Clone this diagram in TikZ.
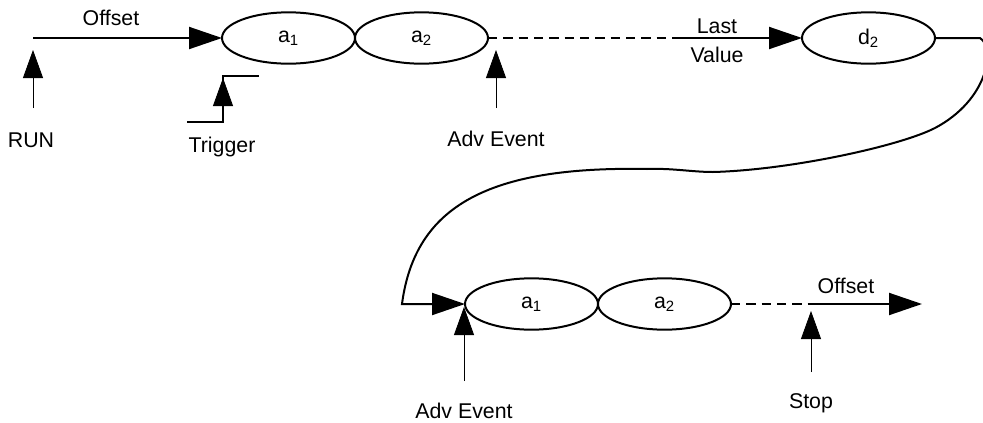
\documentclass[tikz,border=0pt]{standalone}
\usepackage{fontspec}
\setmainfont{Liberation Sans}
\usetikzlibrary{arrows.meta,shapes.geometric,positioning}

\begin{document}
\begin{tikzpicture}[x=0.75pt, y=-0.75pt, font=\fontsize{16}{19}\selectfont,
	slot/.style={ellipse, draw, line width=1.5pt, minimum width=99.75pt, minimum height=38.5pt, inner sep=0pt, outer sep=0pt},
	flow/.style={line width=1.5pt, -{Triangle[length=24.75pt, width=16.5pt]}},
	hold/.style={line width=1.5pt, dash pattern=on 7pt off 4.5pt},
	event/.style={line width=0.6pt, -{Triangle[length=21pt, width=15pt]}},
	lbl/.style={anchor=base, inner sep=0pt}]
			\useasboundingbox (0,0) rectangle (983,422);
			\node[slot] (a1) at (288.5,38) {a\textsubscript{1}};
			\node[slot, right=0pt of a1] (a2) {a\textsubscript{2}};
			\node[slot] (d2) at (868.5,38) {d\textsubscript{2}};
			\node[slot] (b1) at (531.5,304) {a\textsubscript{1}};
			\node[slot, right=0pt of b1] (b2) {a\textsubscript{2}};
			\node[lbl] (offset) at (111,25) {Offset};
			\node[lbl] (run) at (31,147) {RUN};
			\node[lbl] (trigger) at (222,152) {Trigger};
			\node[lbl] (adv) at (496,146) {Adv Event};
			\node[lbl] (last) at (717,33) {Last};
			\node[lbl] (value) at (717,62) {Value};
			\node[lbl] (offset2) at (846,293) {Offset};
			\node[lbl] (adv2) at (464,418) {Adv Event};
			\node[lbl] (stop) at (811,408) {Stop};
			\coordinate (start) at (33,38);
			\coordinate (lv) at (677,38);
			\coordinate (back) at (402,304);
			\coordinate (stopat) at (811,304);
			\coordinate (outend) at (922,304);
			\coordinate (runfoot) at (33,108);
			\coordinate (runtip) at (33,50);
			\coordinate (advfoot) at (496,108);
			\coordinate (advtip) at (496,50);
			\coordinate (tlow) at (187,122);
			\coordinate (tcorner) at (223,122);
			\coordinate (ttip) at (223,78);
			\coordinate (ttop) at (259,76);
			\coordinate (adv2foot) at (464,381);
			\coordinate (adv2tip) at (464,307);
			\coordinate (stopfoot) at (811,372);
			\coordinate (stoptip) at (811,311);
			\draw[flow] (start) -- (a1.west);
			\draw[hold] (a2.east) -- (lv);
			\draw[flow] (lv) -- (d2.west);
			\draw[flow] (d2.east) -- (980,38) .. controls (996,48) and (988,100) .. (935,128)
				.. controls (900,146) and (790,170) .. (713,172)
				.. controls (692,172) and (672,168) .. (647,169)
				.. controls (490,166) and (415,205) .. (back) -- (b1.west);
			\draw[hold] (b2.east) -- (stopat);
			\draw[flow] (stopat) -- (outend);
			\draw[event] (runfoot) -- (runtip);
			\draw[event] (advfoot) -- (advtip);
			\draw[event] (adv2foot) -- (adv2tip);
			\draw[event] (stopfoot) -- (stoptip);
			\draw[line width=1.2pt] (tlow) -- (tcorner) |- (ttop);
			\draw[event] (tcorner) -- (ttip);
\end{tikzpicture}
\end{document}
